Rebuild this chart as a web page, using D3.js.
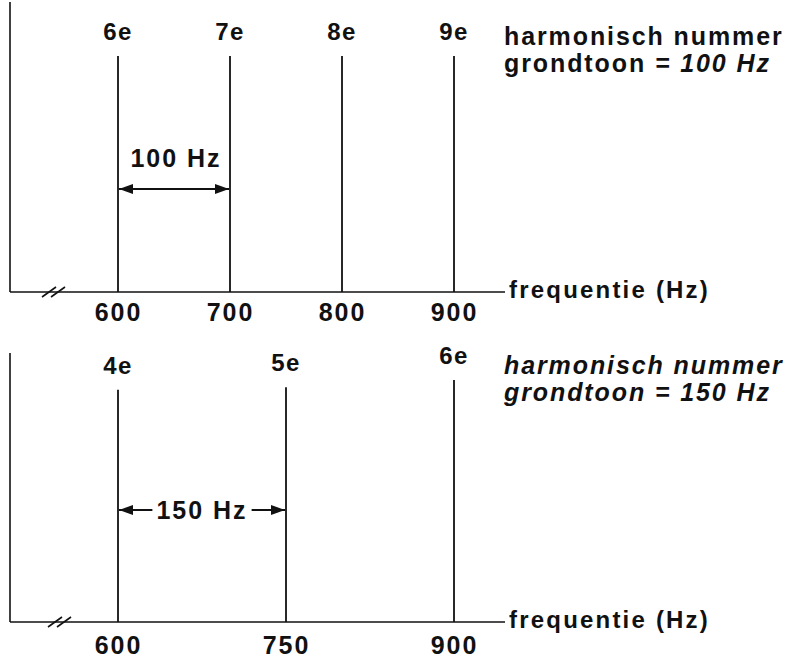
<!DOCTYPE html>
<html>
<head>
<meta charset="utf-8">
<script src="https://cdn.jsdelivr.net/npm/d3@7"></script>
<style>
  html, body { margin: 0; padding: 0; background: #fff; }
  svg { display: block; }
  text { font-family: "Liberation Sans", Arial, Helvetica, sans-serif; font-weight: bold; fill: #111; }
</style>
</head>
<body>
<svg id="chart" width="808" height="660"></svg>
<script>
// ---- data ----
const topFreqs = [600, 700, 800, 900];
const topHarmonics = ["6e", "7e", "8e", "9e"];
const topAmplitudes = [1, 1, 1, 1];
const topTicks = [600, 700, 800, 900];
const topFundamental = 100;

const bottomFreqs = [600, 750, 900];
const bottomHarmonics = ["4e", "5e", "6e"];
const bottomAmplitudes = [0.96, 0.97, 1];
const bottomTicks = [600, 750, 900];
const bottomFundamental = 150;

const axisTitle = "frequentie (Hz)";
const legendLine1 = "harmonisch nummer";
const legendLine2a = "grondtoon";

// ---- layout ----
const svg = d3.select("#chart");
const ink = "#111";
const x = d3.scaleLinear().domain([600, 900]).range([118, 454]);
const axisLeft = 10, axisRight = 505;

const defs = svg.append("defs");
defs.append("marker").attr("id", "ah").attr("viewBox", "0 0 14 10")
  .attr("refX", 14).attr("refY", 5).attr("markerWidth", 14).attr("markerHeight", 10)
  .attr("markerUnits", "userSpaceOnUse").attr("orient", "auto-start-reverse")
  .append("path").attr("d", "M0,0 L14,5 L0,10 Z").attr("fill", ink);

function panel(cfg) {
  const g = svg.append("g");
  const y = d3.scaleLinear().domain([0, 1]).range([cfg.base, cfg.top]);
  g.append("line").attr("x1", axisLeft).attr("x2", axisLeft)
    .attr("y1", cfg.axisTop).attr("y2", cfg.base)
    .attr("stroke", ink).attr("stroke-width", 1.6);
  g.append("line").attr("x1", axisLeft).attr("x2", axisRight)
    .attr("y1", cfg.base).attr("y2", cfg.base)
    .attr("stroke", ink).attr("stroke-width", 1.6);
  [0, 9].forEach(dx => {
    g.append("line")
      .attr("x1", 42 + dx + cfg.breakDx).attr("y1", cfg.base + 5)
      .attr("x2", 56 + dx + cfg.breakDx).attr("y2", cfg.base - 5)
      .attr("stroke", ink).attr("stroke-width", 1.6);
  });
  const ax = d3.axisBottom(x).tickValues(cfg.ticks).tickSize(0).tickPadding(cfg.tickPad).tickFormat(d3.format("d"));
  const axg = g.append("g").attr("transform", `translate(0,${cfg.base})`).call(ax);
  axg.select(".domain").remove();
  axg.selectAll("text").attr("font-size", 25).attr("letter-spacing", 2)
    .attr("font-family", "Liberation Sans, Arial, sans-serif").attr("font-weight", "bold").attr("fill", ink);
  g.selectAll(".harm").data(cfg.freqs).join("line")
    .attr("x1", d => x(d)).attr("x2", d => x(d))
    .attr("y1", cfg.base).attr("y2", (d, i) => y(cfg.amps[i]))
    .attr("stroke", ink).attr("stroke-width", 1.8);
  g.selectAll(".hl").data(cfg.freqs).join("text")
    .attr("x", d => x(d)).attr("y", (d, i) => y(cfg.amps[i]) - 16)
    .attr("text-anchor", "middle").attr("font-size", 24).attr("letter-spacing", 1.5)
    .text((d, i) => cfg.labels[i]);
  g.append("text").attr("x", axisRight + 4).attr("y", cfg.base + 6)
    .attr("font-size", 24).attr("letter-spacing", 2.2).text(axisTitle);
  const lg = g.append("text").attr("x", 504).attr("y", cfg.legendY)
    .attr("font-size", 25).attr("letter-spacing", 1.9)
    .attr("font-style", cfg.italicAll ? "italic" : "normal");
  lg.append("tspan").attr("x", 504).attr("dy", 0).text(legendLine1);
  lg.append("tspan").attr("x", 504).attr("dy", 27).text(legendLine2a + " ");
  lg.append("tspan").attr("font-style", "italic").text("= " + cfg.fund + " Hz");
  const f0 = cfg.freqs[0], f1 = cfg.freqs[1];
  if (cfg.annotStyle === "above") {
    g.append("line").attr("x1", x(f0) + 1).attr("x2", x(f1) - 1)
      .attr("y1", cfg.arrowY).attr("y2", cfg.arrowY).attr("stroke", ink).attr("stroke-width", 1.8)
      .attr("marker-start", "url(#ah)").attr("marker-end", "url(#ah)");
    g.append("text").attr("x", (x(f0) + x(f1)) / 2 + 2).attr("y", cfg.arrowY - 22)
      .attr("text-anchor", "middle").attr("font-size", 25).attr("letter-spacing", 2)
      .text((f1 - f0) + " Hz");
  } else {
    const t = g.append("text").attr("x", (x(f0) + x(f1)) / 2).attr("y", cfg.arrowY + 9)
      .attr("text-anchor", "middle").attr("font-size", 25).attr("letter-spacing", 2)
      .text((f1 - f0) + " Hz");
    const bb = t.node().getBBox();
    g.append("line").attr("x1", bb.x - 4).attr("x2", x(f0) + 1)
      .attr("y1", cfg.arrowY).attr("y2", cfg.arrowY).attr("stroke", ink).attr("stroke-width", 1.8)
      .attr("marker-end", "url(#ah)");
    g.append("line").attr("x1", bb.x + bb.width + 4).attr("x2", x(f1) - 1)
      .attr("y1", cfg.arrowY).attr("y2", cfg.arrowY).attr("stroke", ink).attr("stroke-width", 1.8)
      .attr("marker-end", "url(#ah)");
  }
}

panel({
  base: 292, top: 56, axisTop: 2, ticks: topTicks, tickPad: 11, freqs: topFreqs,
  amps: topAmplitudes, labels: topHarmonics, legendY: 45, fund: topFundamental,
  italicAll: false, arrowY: 189, annotStyle: "above", breakDx: 0
});
panel({
  base: 622, top: 380, axisTop: 353, ticks: bottomTicks, tickPad: 14, freqs: bottomFreqs,
  amps: bottomAmplitudes, labels: bottomHarmonics, legendY: 374, fund: bottomFundamental,
  italicAll: true, arrowY: 510, annotStyle: "inline", breakDx: 6
});
</script>
</body>
</html>
